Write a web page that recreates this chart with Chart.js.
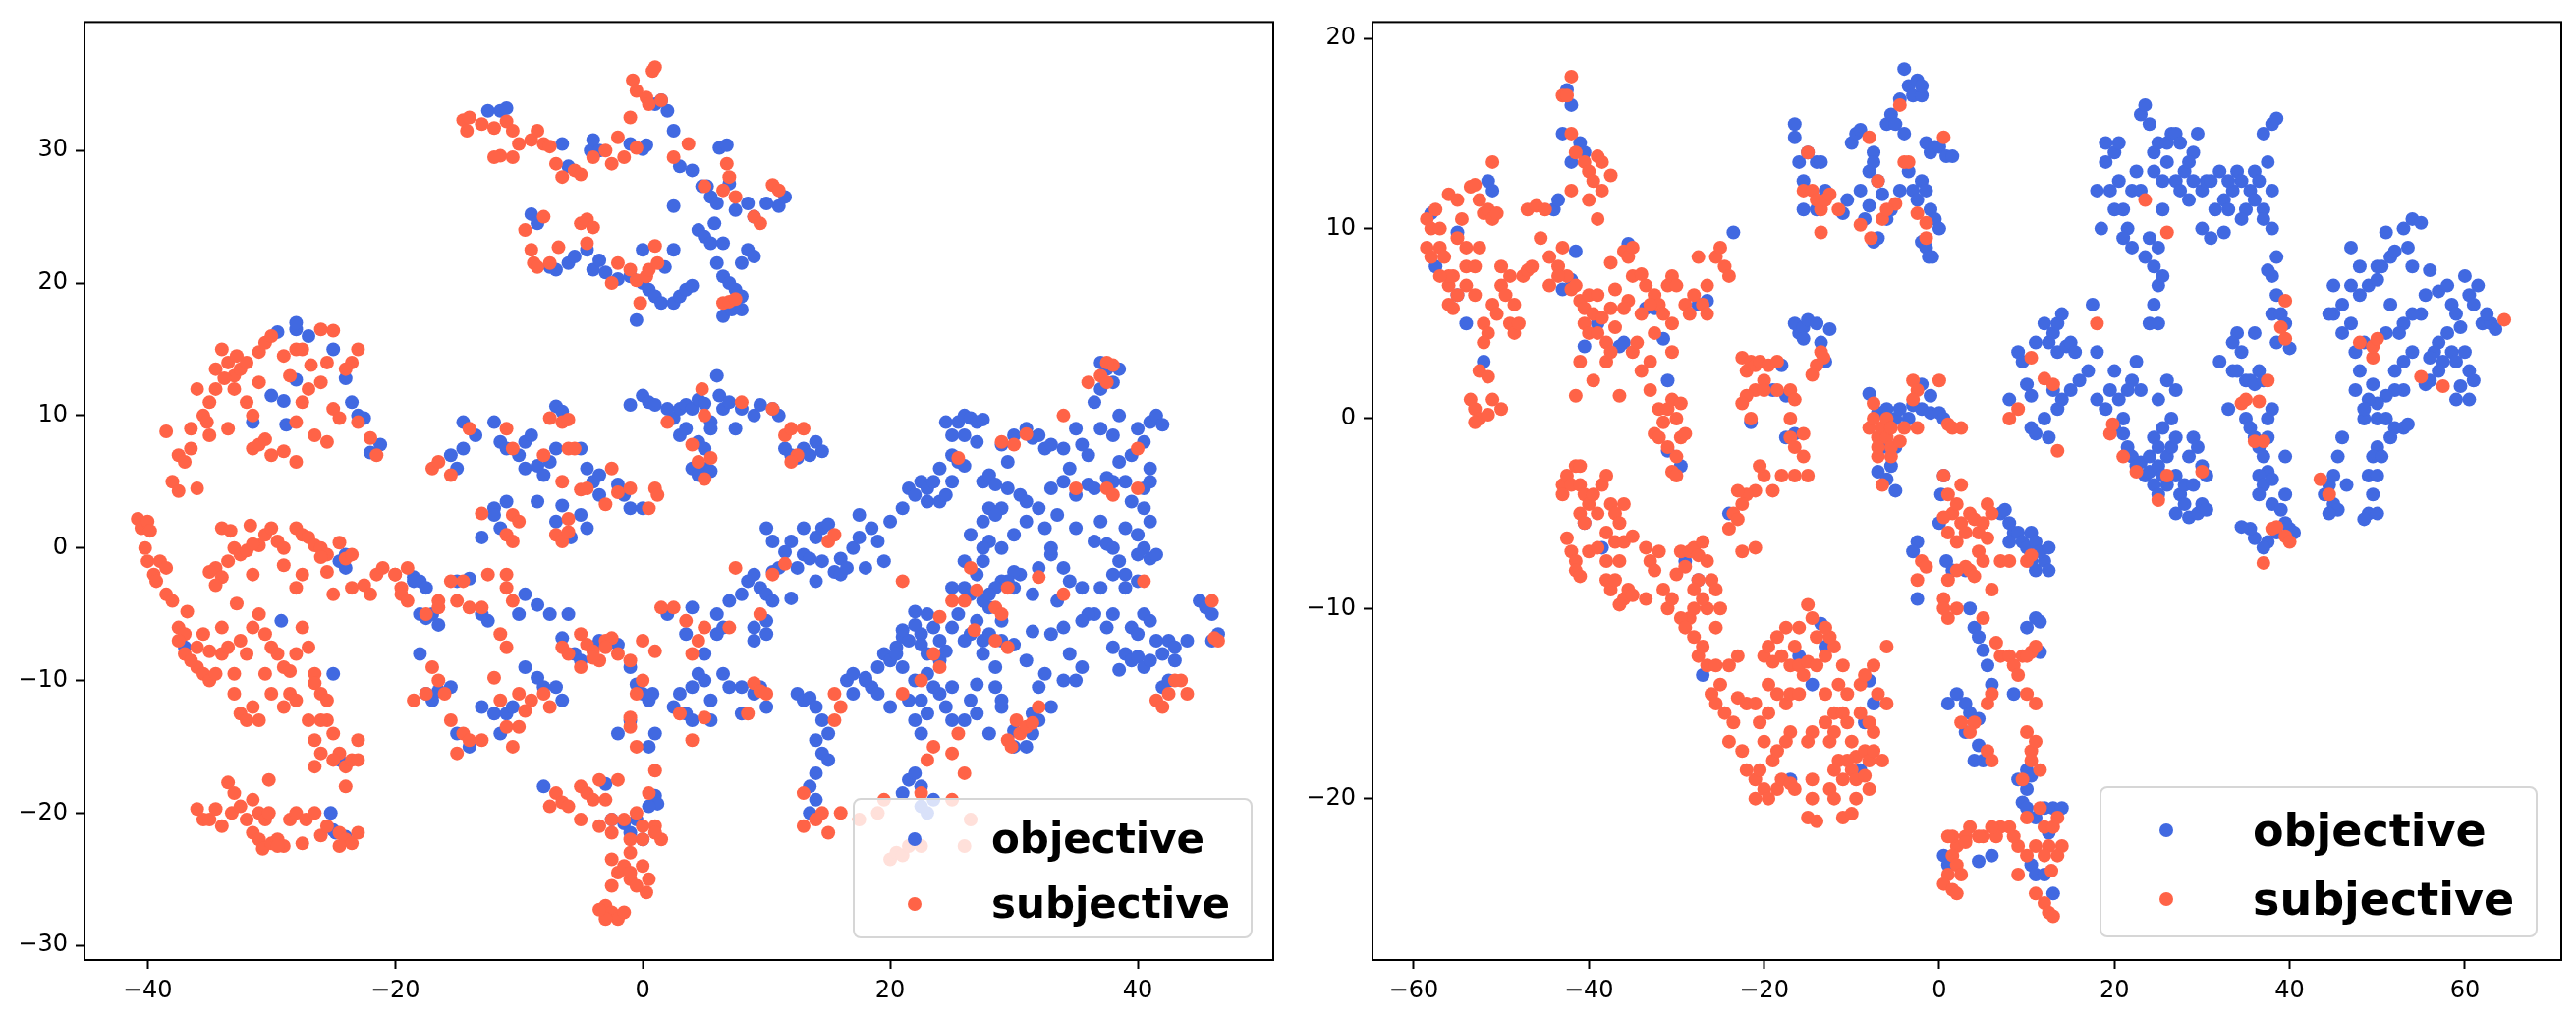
<!DOCTYPE html>
<html>
<head>
<meta charset="utf-8">
<script src="https://cdn.jsdelivr.net/npm/chart.js@4.4.1/dist/chart.umd.min.js"></script>
<style>
  body { margin: 0; background: #fff; }
  #wrap { position: relative; width: 2622px; height: 1036px; }
  canvas { position: absolute; top: 0; }
  .legend { position: absolute; background: rgba(255,255,255,0.8); border: 2px solid #d6d6d6; border-radius: 8px; box-sizing: border-box; }
  .dot { position: absolute; width: 14px; height: 14px; border-radius: 50%; transform: translate(-50%, -50%); }
  .lbl { position: absolute; font-family: "DejaVu Sans"; font-weight: bold; line-height: 1; transform: translateY(-50%); color: #000; white-space: nowrap; }
</style>
</head>
<body>
<div id="wrap">
  <canvas id="chartLeft" width="1311" height="1036" style="left:0"></canvas>
  <canvas id="chartRight" width="1311" height="1036" style="left:1311px"></canvas>

  <div class="legend" style="left:868px;top:812px;width:407px;height:143px">
    <div class="dot" style="left:61px;top:40px;background:royalblue"></div>
    <div class="lbl" style="left:139px;top:40px;font-size:42px">objective</div>
    <div class="dot" style="left:61px;top:106px;background:tomato"></div>
    <div class="lbl" style="left:139px;top:106px;font-size:42px">subjective</div>
  </div>
  <div class="legend" style="left:2137px;top:800px;width:446px;height:154px">
    <div class="dot" style="left:66px;top:43px;background:royalblue"></div>
    <div class="lbl" style="left:154px;top:43px;font-size:46px">objective</div>
    <div class="dot" style="left:66px;top:113px;background:tomato"></div>
    <div class="lbl" style="left:154px;top:113px;font-size:46px">subjective</div>
  </div>
</div>

<script>
// series names
var seriesNames = ['objective', 'subjective'];

// tick labels
var leftXTicks = [-40, -20, 0, 20, 40];
var leftYTicks = [-30, -20, -10, 0, 10, 20, 30];
var rightXTicks = [-60, -40, -20, 0, 20, 40, 60];
var rightYTicks = [-20, -10, 0, 10, 20];

// ---- left panel, objective (blue) ----
var leftObjective = [
  // top cluster
  [-12.5,33],[-11.5,33],[-11,33.2],[-6.5,30.5],[-6,28.8],[-4.2,30],[-4,30.8],[-3.5,30],[-1,30.5],[0,30.1],[0.3,30.4],[1,33.5],[1.5,33.8],[2,33],[2.5,31.5],
  [4,28.5],[4.8,27.3],[5.5,26.5],[5.2,27.3],[6.2,30.2],[6.8,30.4],[7,27.5],[6,26],[7.5,25.5],[8.5,26],[9,25],[10,26],[11,25.8],[11.5,26.5],[2.5,25.8],[4.5,24],
  [-9,25.2],[-8.5,24.5],[-7.5,21.2],[-7,21],[-6,21.5],[-5.5,22],[-4.5,22.5],[-4,21],[-3.5,21.7],[-3,20.8],[-2,20.3],[-1,20.5],[0,22.5],[0,20],[0.5,19.5],
  [1,19],[1.5,18.5],[2.5,18.5],[3,19],[3.5,19.5],[2.5,22.5],[4,19.8],[5,23.5],[5.5,23],[6.5,23],[6,21.5],[6.5,20.5],[7,20],[7.5,19.5],[8,19],[6.5,17.5],
  [7.2,18],[8,18],[8.5,22.5],[9,22],[8,21.5],[-0.5,17.2],[3,28.8],[5.8,24.5],[1.8,21.2],
  // left arc
  [-29.5,16.3],[-28,16.5],[-28,17],[-27,16],[-28,12.7],[-25,15],[-24,12.8],[-23.5,11],[-23,10],[-22.5,9.8],[-22,7.2],[-21.2,7.8],[-31.5,9.5],[-29,11.1],[-28.8,9.3],[-30,11.5],
  [-37,-7.5],[-29.2,-5.5],[-25,-9.5],[-24.5,-1],[-24,-0.5],[-24,-1.5],[-24.5,-16],[-25.2,-20],[-24.8,-21.5],[-18.5,-2.2],[-18,-2.5],[-17.5,-3],[-25,-21.3],[-24,-21.8],
  // middle left cluster
  [-14.5,9.5],[-13.5,8.5],[-12,9.5],[-11.5,8],[-11,7.5],[-10,7],[-9.5,6],[-9.5,8],[-9,8.5],[-8.5,6.2],[-8,5.5],[-7.5,6.5],[-7,7.5],[-7,10.7],[-6.5,10.3],
  [-5,7.5],[-4.5,6],[-4,5],[-3.5,5.5],[-2,4.8],[-1.5,4],[-1,3],[0,3],[-3.5,4],[-11,3.5],[-12,3],[-12,2.5],[-11.5,1.5],[-13,0.8],[-15,6],[-15.5,7],[-14.5,7.5],
  [-8.5,3.5],[-5,2.5],[-4.5,1.5],[-6.5,3.2],[-7,2],[-5.8,0.8],
  [-18.5,-2.5],[-18,-5],[-17.5,-5.3],[-17,-5],[-16.5,-5.8],[-15,-2.5],[-14,-2.3],[-13,-5],[-12.5,-5.5],[-10,-5],[-9.5,-3.5],[-8.5,-4.3],[-7.5,-5],[-6.5,-6.8],
  [-6,-5],[-5.5,-8],[-5,-8.5],[-4,-7.5],[-3.5,-7],[-2,-7.3],[-1,-9],[-18,-8],[-17.5,-11],[-17,-11.5],[-16.5,-10.8],[-15.5,-10.5],[-15,-14],[-14,-15],[-13,-12],
  [-12,-12.5],[-11.5,-14],[-11,-12.5],[-10.5,-12],[-9.5,-9],[-8.5,-9.8],[-8,-10.5],[-7,-10.5],[-6.5,-11.5],[-2,-14],[-1,-13],[-0.5,-10.3],[0,-11],[0.5,-11.5],[1,-14],
  // centre upper
  [-1,10.8],[0,11.5],[0.5,11],[1,10.8],[2,10.5],[2.5,9.8],[3,10.5],[3.5,10.8],[4,10.5],[4.5,11.2],[5,10.9],[5.5,9.5],[6,13],[6.2,11.5],[6.5,10.5],[7,11],
  [7.5,9],[8,10.5],[9,10],[9.5,10.8],[10.5,10.5],[11,10],[11.5,7.5],[12,7],[12.5,6.8],[13,7.5],[14,8],[14.5,7.3],[13.5,7],[3,8.5],[3.5,9],[4.5,8],[5,7.5],
  [5,6],[4,6],[4.5,5.5],[5.5,5.8],[5.5,9],
  // centre band
  [8,-3.5],[8.5,-2.5],[9,-2],[9.5,-3],[10,-3.5],[10.5,-4],[10.5,-1.8],[10,1.5],[10.5,0.5],[11,-1.5],[12,-3.8],[12.5,-1.5],[13,-0.5],[13.5,-0.8],[14,-2.5],
  [14.5,-1],[14,0.8],[14.5,1.5],[15,1.8],[15.5,-1.8],[16,-0.8],[16,-2],[16.5,-1.5],[17,0],[17.5,0.8],[17.5,2.5],[18.5,1.5],[18,-1.5],[19,0.5],[19.5,-1],[20,2],
  [21,3],[21.5,4.5],[22,4],[22.5,5],[23,3.5],[13,1.5],[12,0.5],[11.5,-0.3],[10,-5.5],[10,-6.5],[9,-6],[9,-7],[7,-4],[6.5,-6],[6,-5],[6,-6.5],[5,-8],[3.5,-6.5],
  [2,-5],[4,-4.5],[4.5,-9.5],[5,-10],[4,-10.5],[3,-11],[2.5,-12],[3.5,-12.5],[4,-13],[6.5,-9.5],[7,-10.5],[8,-10.5],[9,-11],[9.5,-10.5],[10,-12],[8,-12.5],
  [5.5,-11.5],[5.5,-13],[0.5,-15],[0.8,-11],
  // bottom centre
  [-8,-18],[-3,-17.8],[-2.5,-20.5],[-1.5,-20.8],[-1,-21.5],[0,-22],[1,-18.7],[1.2,-19.3],[0.5,-19.5],[-0.5,-20.5],
  // lower right
  [12.5,-11],[13,-11.5],[13.5,-11.3],[14,-12],[14.5,-13],[15,-14],[14,-14.5],[14.5,-15.5],[15,-16],[14,-17],[13.5,-18],[14,-19],[13.5,-20],[16.5,-10],[17,-9.5],
  [18,-10],[18.5,-10.5],[18,-9.8],[19,-9],[19.5,-8],[20,-8.5],[20.5,-7.5],[21,-6.7],[21.5,-7],[21,-9],[20,-12],[21.5,-11.5],[22,-10],[22,-13],[22.5,-14],
  [21.5,-17.5],[21,-18.5],[22,-17],[22.5,-18],[22.5,-19.5],[23,-20],[23.5,-19],[24,-11],[24.5,-12],[25,-10.5],[25,-13],[26,-13],[26.5,-11.5],[27,-12.5],
  [28,-14],[29,-12],[30,-15],[31,-15],[31.5,-14],[32,-13],[27,-10.3],[29,-11.5],[30,-13.8],[31.5,-12.5],[17,-11],[19,-11],[23,-12.5],[28.5,-10.5],
  // right cluster
  [23,4.5],[23.5,5],[24,6],[24,3.5],[24.5,4],[25,5],[25,7],[25.5,6.5],[26,8.5],[24.5,9.5],[25,8.5],[25.5,9.5],[26,10],[26.5,9.8],[27,9.5],[27.5,9.7],[27,8],
  [26,6.2],[27.5,5],[28,5.5],[28.5,4.8],[28,3],[29,3],[29.5,4.5],[26.5,1],[27.5,2],[28,0.5],[29,0],[30,1],[30.5,4],[31,3.5],[29,7.8],[30,8.5],[31,9],
  [31.5,8.3],[32,8.5],[32.5,7.5],[33,7.8],[34,7.5],[34.5,6],[35,9],[35.5,7.8],[36,7],[37,9],[38,8.5],[38.5,6.5],[38,5],[39,5],[37.5,5.3],[36,4.8],[36.5,4.5],
  [36.5,11],[37,12],[37.5,13.5],[37,14],[38,12.5],[38.5,10],[38.5,13.5],[40,9],[41,9.5],[41.5,10],[42,9.3],[40.5,8],[39.5,7],[41,6],[41,5],[40.5,4.5],
  [39.5,3.5],[40.5,3],[41,2],[40,1],[39,1.5],[40.5,0],[40,-0.5],[41,-0.8],[41.5,-0.5],[40,-2.5],[39,-3],[40.5,-5],[41,-5.5],[39.5,-6],[40,-6.5],[38,-7.5],
  [39,-8],[39.5,-8.5],[40,-8.2],[38.5,-9.2],[40.5,-9],[41,-8.5],[42,-8],[42.5,-7],[43,-7.5],[44,-7],[43,-8.5],[42,-10.5],[42.5,-10],[45,-4],[45.5,-4.5],
  [46,-5],[46.5,-6.5],[46,-7],[41.5,-7],[38,-5],[37.5,-6],[36.5,-5],[35.5,-3],[34.5,-2.5],[34,-1.5],[33.5,-4],[33,-0.5],[32,-1.5],[31.5,-3.5],[30.5,-2],
  [30,-1.8],[30,-3],[29.5,-2.5],[29,-2.5],[28.5,-3],[28,-4.5],[27.5,-4],[29,-5.5],[28,-3.5],[27,-5.5],[26.5,-6.5],[26,-7],[27.5,-7],[28,-6.5],[27.5,-8],
  [28.5,-9],[29,-7],[30,-7.3],[31.5,-6.3],[31,-8.5],[32.5,-9.5],[32,-10.5],[33,-12],[34,-10],[35,-10],[35.5,-9],[34.5,-8],[34,-6],[33,-6.5],[36,-5],
  [35.5,-5.5],[37,-3],[38,-2],[36.5,0.5],[37.5,0.3],[38,0],[35,1.5],[33.5,2.5],[32.5,1.5],[32,3],[37,2],[38.5,-1],[39,-2],[24,-7],[23.5,-6],[23,-5],
  [22.5,-6.5],[22,-5.8],[22.5,-7.3],[23,-8],[24,-8.5],[24.5,-7.8],[25,-6],[25.5,-5],[26,-3],[26.5,-3.5],[27,-2],[27.5,-1],[23,-9.5],[23.5,-10.5],[22,-4.8],
  [21,-6.2],[20.5,-8],[22.5,-11.5],[25,-3],[26,-1],[27.5,0],[28.5,2.5],[34,5],[33,4.5],[35,4],[29.5,6.5],[31,2],[33,0]
];

// ---- left panel, subjective (red) ----
var leftSubjective = [
  // top cluster
  [-14.5,32.3],[-14,32.5],[-14.2,31.5],[-13,32],[-12,31.7],[-11,32.2],[-10.5,31.5],[-11.5,29.6],[-12,29.5],[-10.5,29.5],[-10,30.5],[-9,30.8],[-8.5,31.5],
  [-8,30.5],[-7.5,30.3],[-7,29],[-6.5,28],[-5.5,28.5],[-5,28.2],[-4,29.5],[-3,30],[-2.5,29],[-2,31],[-1.5,29.5],[-1,32.5],[-0.5,30.2],[-0.8,35.3],[-0.5,34.5],
  [0.3,34],[0.5,33.5],[0.8,36],[1,36.3],[1.5,33.8],[2.5,29.5],[3.7,30.5],[6.8,29],[7,28],[6.5,27],[7.5,26.5],[9,25],[9.5,24.5],[10.5,27.4],[11,27],[5,27.3],
  [-9.5,24],[-8,25],[-9,22.5],[-8.8,21.5],[-8.5,21.2],[-7.5,21.5],[-6.8,22.7],[-5,24.5],[-4.5,24.8],[-4,24.2],[-4.5,23],[-2.5,20],[-2,21.5],[-1,21],[-0.5,20.2],
  [0.3,20.5],[0.5,21],[1,22.8],[1.2,21.5],[-0.2,18.5],[6.5,18.5],[7,18.6],[7.5,18.8],
  // left arc
  [-38.5,8.8],[-38,5],[-37.5,4.3],[-37.5,7],[-37,6.5],[-36.5,7.5],[-36.5,9],[-36,12],[-35.5,10],[-35,8.5],[-35,11],[-34.5,12],[-34.5,13.5],[-34,15],[-33.5,14],
  [-33,13],[-33,12],[-32.5,13.5],[-32,14],[-32,11],[-31.5,10],[-31,12.5],[-31,14.8],[-30.5,15.5],[-30,16],[-31.5,7.5],[-31,7.8],[-30.5,8.2],[-30,7],[-29,7.3],
  [-28,6.5],[-28,9.5],[-27.5,11],[-27,12],[-28.5,13],[-29,14.5],[-28,15],[-27.5,15],[-26,16.5],[-25,16.4],[-25.5,14],[-26,12.5],[-25,10.5],[-24.5,9.8],
  [-25.5,8],[-26.5,8.5],[-23.5,14],[-23,15],[-24,13.5],[-23,9.5],[-22,8.3],[-21.5,7],[-36,4.5],[-35.2,9.5],[-33.5,9],[-32.8,14.5],[-33.8,12.8],[-26.8,13.8],
  // left middle
  [-40.8,2.2],[-40.5,1.5],[-40,2],[-40.2,0],[-39.8,1.3],[-40,-1],[-39.5,-2],[-39,-1],[-38.5,-1.5],[-38.5,-3.5],[-38,-4],[-39.3,-2.5],[-37.5,-6],[-37,-6.5],
  [-37.5,-7],[-37,-8],[-36,-9],[-36.5,-8.5],[-35.5,-9.5],[-35,-10],[-34.5,-9.5],[-34,-8],[-35.5,-6.5],[-36,-7.5],[-35,-7.8],[-34,-6],[-33.5,-7.5],[-33,-9.5],
  [-32,-8],[-32.5,-7],[-31.5,-6],[-31,-5],[-30.5,-6.5],[-30,-7.5],[-29.5,-8],[-29,-9],[-28.5,-9.3],[-28,-8],[-27.5,-6],[-27,-7.5],[-26.5,-9.5],[-34.5,-1.5],
  [-35,-1.8],[-34,-2.2],[-33.5,-1],[-33,0],[-32.5,-0.5],[-32,-0.2],[-31,0.2],[-30.5,1],[-30,1.5],[-29.5,0.5],[-29,0],[-28,1.5],[-27.5,1],[-27,0.8],[-26.5,0.2],
  [-26,0],[-25.5,-0.5],[-24.5,0.4],[-24,-0.8],[-23.5,-0.5],[-34.5,-2.8],[-34,1.5],[-33.3,1.3],[-31.7,1.7],[-31.5,0.3],[-29,-1.3],[-31.5,-2],[-28,-3],[-27.5,-2],
  [-26,-0.7],[-25.5,-1.8],[-25,-3.5],[-23.5,-3],[-22.5,-2.8],[-22,-3.5],[-21.5,-2],[-21,-1.5],[-20,-2],[-19.5,-3],[-19,-1.5],[-33,-11],[-32.5,-12.5],[-31.5,-12],
  [-32,-13],[-31,-13],[-30,-11],[-29,-12],[-30.5,-9.5],[-28.5,-11],[-28,-11.5],[-26.5,-10.2],[-26,-11],[-25.5,-11.5],[-25.5,-13],[-25,-14],[-24.5,-15.5],
  [-24,-16.5],[-23.5,-16],[-23,-14.5],[-23,-16],[-24,-18],[-25,-16],[-26.5,-16.5],[-26,-15.5],[-26,-13],[-27,-13],[-26.5,-14.5],[-36.8,-4.8],[-32.8,-4.2],
  // bottom left
  [-36,-19.7],[-35.5,-20.5],[-35,-20.5],[-34.5,-19.7],[-34,-21],[-33.5,-17.7],[-33,-18.5],[-33.2,-20],[-32.5,-19.5],[-32,-20.5],[-31.5,-19],[-31,-20],
  [-30.5,-20.5],[-30.2,-20],[-31.5,-21.5],[-31,-22],[-30.7,-22.7],[-30,-22.3],[-29.5,-22],[-29,-22.5],[-30.2,-17.5],[-29.5,-22.5],[-28.5,-20.5],[-28,-20],
  [-27.2,-20.5],[-26.5,-20],[-26,-21.7],[-25.5,-21],[-24.5,-21.5],[-24,-22],[-23.5,-22.3],[-23,-21.5],[-24.5,-22.5],[-27.5,-22.3],
  // middle left cluster
  [-17,6],[-16.5,6.5],[-15.5,5.5],[-14,9],[-11,9],[-10.5,7.5],[-8,7],[-7.5,9.8],[-6.5,9.5],[-6,9.7],[-6,7.5],[-5.5,7.5],[-6.5,5],[-5,4.4],[-4.5,4.5],[-3,3.3],
  [-2.5,6],[-2,4.2],[-1,4.5],[1,4.5],[1.2,4],[0.5,3],[-10.5,2.5],[-13,2.6],[-10,2],[-11,1],[-6,2.2],[-7,1],[-10.5,0.5],[-6.5,0.5],[-6,1.2],
  [-20,-2],[-19.5,-3.5],[-19,-4],[-17.5,-5],[-16.5,-4],[-15.5,-2.5],[-14.5,-2.5],[-15,-4],[-14,-4.5],[-13,-4.5],[-12.5,-2],[-11,-2],[-11,-3],[-10.5,-4],
  [-16.5,-4.5],[-18.5,-11.5],[-17.5,-11],[-17,-9],[-16.5,-10],[-16,-11],[-15.5,-13],[-15,-15.5],[-14.5,-14],[-14,-14.5],[-13,-14.5],[-12,-9.8],[-11.5,-11.5],
  [-11,-13.5],[-10.5,-15],[-11.5,-6.5],[-11,-7.5],[-10,-11],[-9,-11.5],[-8,-11],[-7.5,-12],[-9.5,-12.3],[-10,-13.5],[-6.5,-7.5],[-6,-8],[-5,-6.5],[-4.5,-7.3],
  [-4,-7.8],[-3.5,-8.5],[-3,-7],[-2.5,-6.8],[-2,-8],[-5,-9],[-4,-8.3],[-3,-7.5],
  // centre
  [2,9.5],[4.8,12],[5,10],[4.5,6.5],[4,7.8],[5.5,6.8],[5,5.2],[8,11],[10.5,10.5],[11.5,8.5],[12,9],[13,9],[12.5,7],[12,6.5],
  [7.5,-1.5],[10.5,-2],[11.5,-1.2],[15,0.5],[15.5,1],[9.5,-5],[7,-6],[4.5,-7],[5,-6],[4,-8],[3.5,-5.5],[2.5,-4.5],[1.5,-4.5],[0,-7],[-1,-8.5],[0,-10],
  [-0.5,-11],[-1,-12.8],[-1,-13.5],[-0.5,-15],[1,-7.8],[3,-12.5],[5,-12.8],[4,-14.5],[8.5,-12.5],[9,-10.2],[9.5,-10.8],[10,-11],
  // bottom centre
  [-7.5,-19.5],[-7,-18.5],[-6.5,-19.2],[-6,-19.5],[-5,-18],[-4.5,-18.5],[-4,-19],[-3.5,-17.5],[-3,-19],[-2,-17.5],[-2.5,-20.5],[-3.5,-21],[-2.5,-21.5],
  [-1.5,-20.5],[-1,-22],[-0.5,-20],[0,-21],[1,-21],[1.5,-22],[0,-22],[-1,-23],[-2.5,-23.5],[-2,-24.5],[-1.5,-24],[-1,-25],[0,-24],[0.5,-25],[0.3,-26],
  [-0.5,-25.5],[-1,-24.5],[-2.5,-25.5],[-3,-27],[-2.5,-27.5],[-2,-28],[-3,-28],[-3.5,-27.3],[-1.5,-27.5],[1,-16.8],[0.5,-18.5],[1,-21.5],[-5,-20.5],
  // lower right
  [13,-18.5],[13,-21],[14,-20.5],[14.5,-20],[15,-21.5],[15.5,-11],[16,-12],[15.5,-13],[16,-20],[17.5,-20.5],[19,-20],[19.5,-19],[20,-23.5],[20.5,-23],
  [21,-23.2],[21.5,-22.5],[22.5,-22.5],[22.5,-18.5],[23.5,-15],[23,-16],[25,-15.5],[25.5,-14],[26,-17],[25,-19],[26,-22.5],[26.5,-20.5],[21,-11],[22.5,-10],
  [24,-9],[30.2,-13],[30.5,-14],[31,-13.5],[32,-12],[31.5,-13.2],[29.5,-14.5],[29.8,-15],
  // right cluster
  [25.5,6.8],[29,8],[30,7.8],[31,8.6],[34,10],[35,4.5],[37.5,4.5],[38,4],[40,4.5],[40,7.5],[37,13],[37.5,12.5],[38,13.8],[37.5,14],[36,12.5],[29.5,-3],
  [28.5,-4.5],[29,-5],[28.5,-7],[29.5,-7.5],[26.5,-1.5],[25,-4],[26,-4],[27,-3.2],[32,-2.2],[34,-3.5],[40.5,-2.5],[41.5,-11.5],[42,-12],[42.5,-11],
  [43.5,-10],[44,-11],[43,-10],[46,-4],[46.5,-7],[46.2,-6.8],[26.8,-6.2],[23.5,-8],[24,-5.2],[21,-2.5]
];

// ---- right panel, objective (blue) ----
var rightObjective = [
  // upper left region
  [-58,10.8],[-57.5,8],[-55,9.8],[-55,6.5],[-54,5],[-51.5,12.5],[-51,12],[-52,3],[-44,11],[-43.5,11.5],[-43,15],[-42.5,17.3],[-42,16.5],[-41,14.5],[-40.5,14],
  [-42,13.5],[-41.5,8.8],[-42,7.3],[-43,6.8],[-40.5,3.8],[-39,5],[-36.5,3.8],[-36,4],[-35.5,9.2],[-33.5,5.8],[-32.5,5.8],[-31.5,4.2],[-31,2],[-27.5,6],
  [-26.5,6.2],[-23.5,9.8],[-31,-1.7],[-29.5,-2.5],
  // top centre
  [-16.5,15.5],[-16.5,14.8],[-16,13.5],[-15.5,12.5],[-15.5,11],[-15,14],[-14,13.5],[-13.5,13.5],[-14,11],[-13,12],[-11,10.8],[-10.5,11.5],[-10,14.5],
  [-9.5,15],[-9,15.2],[-9,12],[-8.5,10.5],[-8,11.2],[-8,13],[-7.5,14],[-7,12.5],[-6.5,11.8],[-7,9.5],[-7.5,9.3],[-7.5,13.5],[-6,15.5],[-5.5,16],[-5,15.5],
  [-4.5,16.8],[-4,18.4],[-3.5,17.5],[-3,17],[-2.5,17.8],[-2,17],[-2,17.5],[-4,15],[-3.5,13],[-3,12],[-2.5,11.5],[-2,12.5],[-1.5,12],[-1,11],[-1.5,14.5],
  [-1,14],[-0.5,14.3],[0,14.3],[0.8,13.8],[1.5,13.8],[-2,9.3],[-1.5,9],[-1.2,8.5],[-0.8,8.5],[-0.5,10.5],[0,10],[-4.5,12],[-5.5,11],[-6,10.5],
  // top right
  [18,12],[18.5,10],[19,14.5],[19,13.5],[19.5,12],[20,14],[20.5,12.5],[20,11],[21,11],[21.5,10],[21,9.5],[22,9],[22,12],[23,16],[23.5,16.5],[24,15.5],
  [24.5,13],[24.5,14],[23,12],[25,14.5],[25.5,12.5],[25.5,11],[26,13.5],[26,14.5],[26.5,15],[27,15],[27.5,14.5],[27,12.5],[27.5,12],[28,13],[28.5,11.5],
  [29,12.5],[29,14],[29.5,15],[30,12],[30.5,12.5],[31,12.5],[31.5,11],[32,13],[32.5,11.5],[33,11],[33.5,12],[34,13],[34.5,12.5],[35,11],[35.5,12],[36,13],
  [36.5,12.5],[37,11],[37.5,13.5],[38,12],[37,15],[38,15.5],[38.5,15.8],[38,10],[37,10.5],[34.5,10.5],[30,10],[31,9.5],[24,9.5],[25,9],[23.5,8.5],[24.5,8],
  [25,7],[24.5,6],[25,5],[24,5],[25.5,7.5],[38.5,8.5],[38,7.5],[37.5,7.8],[38.5,6.5],[38,5.5],[39,5.5],[39.5,5],[38.5,4],[40,3.7],[36,4.5],
  [20.5,14.5],[22.5,13],[28.5,13.5],[33,12.5],[36,11.5],[32.5,9.8],
  // right lobe
  [45,7],[46,6],[47,9],[48,8],[47,7],[48,6.5],[49,7],[50,7.3],[50,8],[50.5,8],[51,9.8],[51.5,8.5],[52,8.8],[53,10],[53.5,9],[54,10.5],[55,10.3],[54,8],
  [55.5,6.5],[56,7.8],[57,6.7],[58,7],[58.5,6],[59,5.5],[60,7.5],[60.5,6.5],[61,6],[61.5,7],[62,5],[63,5],[63.5,4.7],[62.5,5.5],[59.5,4.8],[58,4.5],[57.5,3],
  [57,2.5],[56.5,3.5],[56,2],[55.5,1.8],[56,3.2],[57,4],[58.5,3.5],[59,3],[60,3.5],[60.5,2.5],[61,2],[59.5,1.7],[59,1],[60.5,1],[55,5.5],[54,5.5],[53,5],
  [51.5,6],[52.5,4.5],[54,3.5],[53,1.5],[52,1.5],[51,1.2],[50,0.8],[49.5,1.8],[49,1],[48.5,0],[48.5,0.5],[50,0],[51,0],[52,-0.5],[53,-0.5],[53.5,-0.3],
  [51.5,-1],[50,-1.5],[49.5,-2],[49,-3],[50.5,-2],[50,-3],[49.5,-4],[49,-5],[48.5,-5.3],[50,-5],[46,-1],[45.5,-2],[45,-3],[44.5,-3.5],[44,-4],[45,-4.5],
  [45.5,-4.8],[44.5,-5],[46.5,-3.5],[45,5.5],[44.5,5.5],[46,4.5],[47,5],[47.5,3.5],[48.5,4],[48,2.5],[47.5,1.5],[51,4.5],[53,3],[52,2.5],
  // middle right
  [8,1],[9,3.5],[9.5,3],[10,1.8],[10.5,1.2],[10.5,-0.5],[11,-0.8],[11,4],[12,5],[12.5,4],[13,4.5],[13.5,5],[14,5.5],[13.5,3.5],[14.5,3.8],[15,4],[15.5,3.5],
  [12,0],[12.5,-1],[13,1.5],[13.5,0.5],[14,1],[15,1.5],[16,2],[17,2.5],[17.5,6],[18,3.5],[18,1],[19,0.5],[19.5,1.5],[20,2.5],[20.5,1],[21,0],[21.5,1.5],
  [22,2],[22.5,3],[20,-0.5],[21,-0.8],[21.5,-1.5],[22,-2],[22.5,-2.5],[23,-2.3],[23.5,-3],[24,-2.8],[24.5,-3.5],[25,-2.5],[25.5,-3],[26,-2],[26.5,-1.5],
  [27,-1],[26,-3.5],[25,-4],[27,-3],[27.5,-4],[28,-3.5],[28.5,-2],[29,-1],[29.5,-1.5],[30,-2.5],[30.5,-3],[29,-3.5],[28,-4.5],[27,-5],[28.5,-5.2],[29.5,-5],
  [30,-4.5],[30.5,-4.8],[25.5,-0.5],[26.5,0],[27,1.5],[26,2],[25,1],[24.5,-1],[25,-1.5],[33,0.5],[33.5,2.5],[34,2.5],[34.5,3.5],[34,4.5],[35,2],[35.5,2],
  [36,1.8],[36.5,2.5],[37,2],[35,0],[35.5,-0.5],[36,-1],[36.5,-1.5],[37.5,0],[38,0.5],[37.5,-1],[37,-2],[37.5,-2.8],[36.5,-3],[37,-3.5],[38,-3.2],[36.5,-4],
  [38,-4.5],[39,-4.8],[39.5,-4],[40,-5.8],[40.5,-6],[39.5,-5.5],[38.5,-6],[37.5,-6.5],[37,-6.8],[36,-6.3],[35.5,-5.8],[34.5,-5.7],[39.5,-2],[32,3],[33.5,4],
  [24,-2],[23,1.5],
  // central lower
  [-40.5,-5.5],[-38.5,-6.8],[-29,-7.5],[-27.5,-8.5],[-27,-13.5],[-24,-5],[-16,-12.5],[-14.5,-14],[-13,-12],[-13.5,-10.8],[-8,-13.8],[-8.5,-16],[-7.5,-15],
  [-17,-19],[-9,-18.5],[-19,1.5],[-17.5,1.2],[-16,4.5],[-16.5,5],[-15.5,4.8],[-15,5.2],[-14,5],[-13.5,4],[-12.5,4.7],[-15.5,4.2],[-21.5,-0.2],[-17.5,-1],
  [-16.5,-0.8],[-18,2.8],[-13,3],
  [-8,1.3],[-7,0.3],[-6,0.5],[-5,0],[-4.5,0.5],[-3.5,0],[-3,0.7],[-2,0.5],[-1,1.2],[-1,0.3],[0,0.3],[0.5,0],[-2,1.8],[-6.5,-1.5],[-5.5,-2.5],[-5,-3.8],
  [-7,-2.8],[-6,-3.2],[-5,-1.5],
  [0.5,-3],[0.2,-4],[0,-5.5],[-2.5,-6.5],[-3,-7],[-2.5,-9.5],[0.8,-7.5],[1.5,-8],[7,-5],[7.5,-4.8],[8,-5.5],[8.5,-6],[8,-6.5],[9,-6],[9.5,-6.5],[10.5,-6],
  [10,-6.8],[11,-6.5],[10.5,-7.5],[11,-8],[12,-7.5],[12.5,-8],[11.5,-7],[12.5,-6.8],[3,-8],[3.5,-10],[4,-11],[4.5,-11.5],[5,-12.2],[6,-14],[5.5,-13],
  [1,-15],[2,-14.5],[3,-15],[3.5,-15.5],[3,-16.5],[4.5,-15.8],[4.5,-17.2],[5,-18],[4,-18],[8.5,-14.5],[10,-11],[11,-10.5],[11.5,-10.7],[11.5,-12.3],[9,-19],
  [10,-18.5],[10.5,-18.8],[9.5,-20.2],[10,-20.5],[10,-19.5],[11,-21],[12,-20.5],[13,-20.5],[14,-20.5],[12.5,-21.8],[10.5,-23.5],[11,-24],[13,-25],[0.5,-23],
  [1,-23.5],[4.5,-23.3],[6,-23],[12,-24]
];

// ---- right panel, subjective (red) ----
var rightSubjective = [
  // upper left region
  [-58.5,10.5],[-58.5,9],[-58,8.5],[-58,10],[-57.5,11],[-57,9],[-56.5,8.5],[-56,7],[-55.5,7.5],[-56,11.8],[-55,11.5],[-54.5,10.5],[-54,9],[-55,9.5],[-54,8],
  [-53.5,12.2],[-53,12.3],[-52.5,11.5],[-52,10.8],[-51.5,11],[-51,10.5],[-50.5,10.8],[-51,13.5],[-52.5,9],[-53,8],[-54,7],[-55,6.5],[-56,6],[-53,6.5],[-52,5],
  [-51.5,4.5],[-52,4],[-51,6],[-50,7],[-50.5,5.5],[-49.5,6.5],[-49,7.5],[-48.5,6],[-49,5],[-48.5,4.5],[-48,5],[-47.5,7.5],[-47,7.8],[-52.5,2.5],[-53.5,1],
  [-53,0.5],[-52.5,0],[-51.5,0.2],[-51,1],[-50,0.5],[-53,-0.2],[-51.5,2.2],[-56,7.5],[-55.5,5.8],[-57,7.5],[-47,11],[-46,11.2],[-45.5,9.5],[-44.5,7],
  [-44.5,8.5],[-43.5,8],[-43,9],[-42.5,7.5],[-42,6.8],[-41.5,7],[-41,6.2],[-40.5,5.8],[-40,6.5],[-43,17],[-42.5,17],[-42,18],[-42,15],[-41.5,14],[-40.5,13.5],
  [-40,13],[-39,13.8],[-38.5,13.5],[-37.5,12.8],[-38.5,12],[-39.5,12.5],[-40,11.5],[-42,12],[-40.5,5],[-40,4.5],[-39.5,5.5],[-39,4.5],[-38.5,5.3],[-38,4],
  [-37.5,5.8],[-37,4.8],[-39,6.5],[-38,3],[-37.5,3.5],[-41,3],[-39.5,2],[-41.5,1.2],[-37,6.8],[-36,8.8],[-35.5,8.5],[-35,7.5],[-34,7.6],[-33.5,7],[-32.5,6.5],
  [-32,6],[-31.5,5.5],[-31,7],[-30.5,7.5],[-30,7],[-29,6],[-28.5,5.5],[-28,6.5],[-27,6],[-26.5,5.5],[-27.5,8.5],[-26.5,7],[-25.5,8.5],[-25,9],[-24.5,8],
  [-24,7.5],[-35,9],[-35.5,6.2],[-36,5.8],[-35,3.5],[-34,2.5],[-33,3],[-32.5,4.5],[-30.5,5],[-30.5,3.5],[-33,6],[-34,5.5],[-34.5,4],[-36.5,1.2],[-37.5,8.2],
  [-45,11],[-43.5,7.5],[-57,10],[-50,8],[-46.5,8],[-39,10.5],
  [-32,0.5],[-31,0.5],[-30.5,1],[-30,0],[-29.5,0.8],[-32.5,-0.8],[-32,-1],[-31,-1.5],[-30,-2],[-29.5,-1],[-29,-0.8],[-30.5,-2.8],[-30,-3],[-31.5,-0.2],[-33,1.5],
  // top centre
  [-15,14],[-15.5,12],[-14.5,12],[-14,11.5],[-13.5,11],[-13,11.5],[-12.5,11.8],[-13.5,9.8],[-11.5,11],[-9,10.2],[-8,14.8],[-7.8,9.5],[-7,12.5],[-6.5,10.5],
  [-5,11.3],[-4,13.5],[-3.5,13.5],[-4.5,16.5],[-1.5,10.3],[-1.5,9.5],[0.5,14.8],[-2.5,10.8],[-6,11],
  // top right and right lobe
  [23.5,11.5],[26,9.8],[48,4],[49.5,3.2],[49.5,3.8],[55,2.2],[57.5,1.7],[64.5,5.2],[43.5,-3.2],[44.5,-4],[50,4.2],
  // middle right
  [9,0.5],[8,0],[10.5,3.2],[12,2.1],[13,1.8],[13.5,-1.7],[18,5],[19.5,-0.8],[19.8,-0.3],[21,-2],[22.5,-2.8],[26,-3],[25,-4.3],[30,-2.8],[34.5,0.8],[35,1],
  [36.5,0.9],[36,-1.2],[37,-1.2],[37.5,2],[38,-5.8],[38.5,-5.7],[37,-7.6],[39.5,-6.2],[40,-6.5],[39,4.8],[39.5,6.2],[39.5,4.2],
  // lower left chunk
  [-43,-3.5],[-43,-4],[-42.5,-3],[-42,-3.5],[-41.5,-2.5],[-41,-2.5],[-41,-3.5],[-40.5,-4],[-41,-5],[-40.5,-5.5],[-40,-4.5],[-39.5,-4],[-39,-5],[-38.5,-3.5],
  [-38,-3],[-37.5,-4.5],[-37,-5],[-36.5,-5.5],[-36,-4.5],[-37,-6.5],[-38,-6],[-36,-6.5],[-35,-6.2],[-42.5,-6.3],[-42,-7],[-41.5,-7.5],[-41.5,-8],[-41,-8.3],
  [-40,-7],[-39,-6.8],[-38,-8.5],[-37.5,-9],[-37,-8.5],[-36,-9.5],[-36.5,-9.8],[-35.5,-9],[-35,-9.3],[-38,-7.5],[-36.5,-7.5],
  // lower centre chunk
  [-33.5,-6.8],[-33,-7.5],[-33.5,-9.5],[-32,-7],[-32.5,-8],[-31.5,-9],[-31,-10],[-30.5,-9.5],[-30,-8.2],[-29.5,-7],[-29,-7.8],[-28.5,-7],[-28,-6.8],[-27.5,-7.2],
  [-27,-6.5],[-26.5,-7.5],[-26,-8.5],[-25.5,-9],[-25,-10],[-26.5,-10],[-27,-9.5],[-27.5,-8.5],[-28,-9],[-28.5,-10.5],[-29.5,-10.5],[-29,-11],[-28,-11.5],
  [-27,-12],[-27.5,-12.5],[-26.5,-13],[-25.5,-11],[-25.5,-13],[-25,-14],[-26,-14.5],[-25.5,-15],[-24.5,-15.5],[-23.5,-16],[-24,-17],[-22.5,-17.5],[-22,-18.5],
  [-21,-19],[-20.5,-18.5],[-20,-17],[-21,-20],[-20,-19.5],[-19.5,-20],[-19,-18],[-18.5,-19.5],[-18,-19],[-17,-19.2],[-16.5,-19.5],[-24,-13],[-23,-12.5],
  [-22,-15],[-21,-15],[-20.5,-16],[-19.5,-15.5],[-20,-12.5],[-19.5,-12],[-19,-12.8],[-18.5,-11.5],[-18,-12.5],[-17.5,-11],[-17,-13],[-16.5,-12],[-16,-11],
  [-16,-13],[-15.5,-13.5],[-15,-12.8],[-14,-13],[-13,-12.5],[-12,-12],[-12.5,-11.5],[-13,-11],[-14,-11.5],[-14.5,-10.5],[-15,-9.8],[-11.5,-14],[-11,-13],
  [-10.5,-14.5],[-12,-15.5],[-13,-16],[-12.5,-17],[-12,-16.5],[-11,-15.5],[-10.5,-16],[-10,-17],[-9.5,-17.8],[-10,-18.5],[-11.5,-18],[-10.5,-18],[-11,-19],
  [-9.5,-19],[-8.5,-17.5],[-8,-18],[-7.5,-17.5],[-8.5,-18.8],[-9.5,-20],[-12.5,-19.5],[-12,-18.5],[-12,-20],[-14.5,-20],[-14.5,-19],[-13,-14.5],[-15,-21],
  [-14,-21.2],[-11,-21],[-10,-20.8],[-8,-19.5],[-6.5,-18],[-6,-15],[-7,-14.5],[-7.5,-16.5],[-8,-16],[-9,-15.5],[-9,-14],[-8.5,-13.5],[-7.5,-13],[-6,-12],
  [-17.5,-15],[-17,-14.5],[-16,-14.5],[-17,-16.5],[-17.5,-17],[-18.5,-17.5],[-14.5,-16.5],[-15,-17],[-19.5,-14],[-18.5,-14.5],[-28,-10],[-23,-14.7],
  // centre upper
  [-22.5,3.2],[-22,2.5],[-21.5,3],[-21,2.8],[-20.5,3],[-20,2],[-21,1.5],[-22,1.2],[-22.5,0.8],[-21.5,0],[-20,1.5],[-19.5,2.8],[-18.5,3],[-18.5,1.5],[-17,1.5],
  [-16.5,1],[-17,0],[-17,-1],[-16.5,-1.5],[-15.5,-0.8],[-15.5,-2],[-15,-3],[-16.5,-3],[-18,-3],[-20,-3],[-20.5,-2.5],[-19,-3.8],[-21,-3.8],[-22,-4],
  [-22.5,-4.5],[-23.5,-5],[-23,-5.3],[-24,-5.8],[-22.5,-7],[-21,-6.8],[-23,-3.8],[-13.5,3.5],[-14,2.8],[-14.5,2.3],[-13.2,3.2],
  [-8,-0.5],[-7.5,0],[-7,-1],[-6.5,-0.5],[-7.5,0.8],[-6,-1],[-6,0],[-5.5,-0.5],[-4,-0.5],[-3,2],[-2.5,1.5],[-3,1],[0,2],[1,-0.3],[1.5,-0.5],[2.5,-0.5],
  [-7,-2],[-5.5,-2],[-6.5,-3.5],[-7,-1.5],[-5.5,-1.5],[-4.5,-1.2],[-2.5,-0.5],
  // lower centre right
  [0.5,-3],[1,-4],[1.5,-5],[2,-4.5],[2.5,-3.5],[2.5,-5.5],[0.5,-5.2],[1,-6],[2,-6.5],[3,-6],[3.5,-5],[4,-5.3],[4.5,-6],[5,-5.5],[5.5,-4.5],[6,-5],
  [5.5,-6.3],[4.5,-7],[5,-7.5],[3.5,-8],[3,-7.8],[2,-8],[1,-8.5],[-2,-7.5],[-1.5,-7.8],[-2.5,-8.5],[0.5,-9.5],[2,-10],[1,-10.5],[0.5,-10],[4,-8.3],[5,-10.5],
  [6,-9],[7,-7.5],[8,-7.5],[10,-7.5],[10.5,-7.2],[6.5,-11.8],[7,-12.5],[8,-12.5],[8.5,-13],[9,-13.5],[9.5,-12.5],[10.5,-12.3],[11,-12],[10,-12.5],[10,-14.5],
  [11,-15],[6,-14.5],[5.5,-15],[4,-16],[3.5,-16.5],[2.5,-16],[5.5,-17.5],[6,-18],[10,-16.5],[10.5,-17.5],[11,-17],[10.5,-18],[11.5,-18.5],[9.5,-19],[10,-21],
  [11.5,-20.5],[12,-21.5],[13,-21.5],[13.5,-21],[14,-22.5],[13.5,-23],[12.5,-22.5],[12,-23],[11,-22.5],[10,-23],[9,-22.5],[8.5,-22],[8,-21.5],[7,-21.5],
  [6.5,-22],[6,-21.5],[5,-22],[4.5,-22],[3.5,-21.5],[3,-22],[2,-22.5],[1.5,-22],[1,-22],[1.5,-23],[2,-23.5],[2.5,-24],[3,-22.3],[1,-24],[0.5,-24.5],
  [1.5,-24.8],[2,-25],[11,-25],[12,-25.5],[12.5,-26],[13,-26.2],[12.8,-23.8],[9,-24]
];

function toPoints(arr) {
  return arr.map(function (p) { return { x: p[0], y: p[1] }; });
}

// matplotlib style minus sign
function fmtTick(v) {
  return v < 0 ? '\u2212' + Math.abs(v) : String(v);
}

// draw the full box around the plot area
var framePlugin = {
  id: 'frame',
  afterDraw: function (chart) {
    var a = chart.chartArea, ctx = chart.ctx;
    ctx.save();
    ctx.strokeStyle = '#000';
    ctx.lineWidth = 2;
    ctx.strokeRect(a.left, a.top, a.right - a.left, a.bottom - a.top);
    ctx.restore();
  }
};

function makeScale(min, max, ticks, isY) {
  return {
    type: 'linear',
    min: min,
    max: max,
    afterBuildTicks: function (s) {
      s.ticks = ticks.map(function (v) { return { value: v }; });
    },
    afterFit: function (s) {
      if (isY) s.width = 86; else s.height = 59;
    },
    border: { display: false },
    grid: { display: true, drawOnChartArea: false, drawTicks: true, tickLength: 9, tickWidth: 2, tickColor: '#000' },
    ticks: {
      color: '#000',
      padding: 8,
      maxRotation: 0,
      autoSkip: false,
      font: { family: 'DejaVu Sans', size: 24 },
      callback: fmtTick
    }
  };
}

function makeChart(id, objective, subjective, xr, yr, xt, yt) {
  return new Chart(document.getElementById(id), {
    type: 'scatter',
    data: {
      datasets: [{
        label: seriesNames[0],
        data: toPoints(objective),
        backgroundColor: 'royalblue',
        borderWidth: 0,
        pointRadius: 7,
        order: 2
      }, {
        label: seriesNames[1],
        data: toPoints(subjective),
        backgroundColor: 'tomato',
        borderWidth: 0,
        pointRadius: 7,
        order: 1
      }]
    },
    options: {
      responsive: false,
      animation: false,
      devicePixelRatio: 1,
      layout: { padding: { top: 14, right: 15, left: 0, bottom: 0 } },
      plugins: { legend: { display: false }, tooltip: { enabled: false } },
      scales: {
        x: makeScale(xr[0], xr[1], xt, false),
        y: makeScale(yr[0], yr[1], yt, true)
      }
    },
    plugins: [framePlugin]
  });
}

makeChart('chartLeft', leftObjective, leftSubjective, [-45.1, 50.95], [-31.1, 39.7], leftXTicks, leftYTicks);
makeChart('chartRight', rightObjective, rightSubjective, [-64.7, 71.0], [-28.5, 20.87], rightXTicks, rightYTicks);
</script>
</body>
</html>
